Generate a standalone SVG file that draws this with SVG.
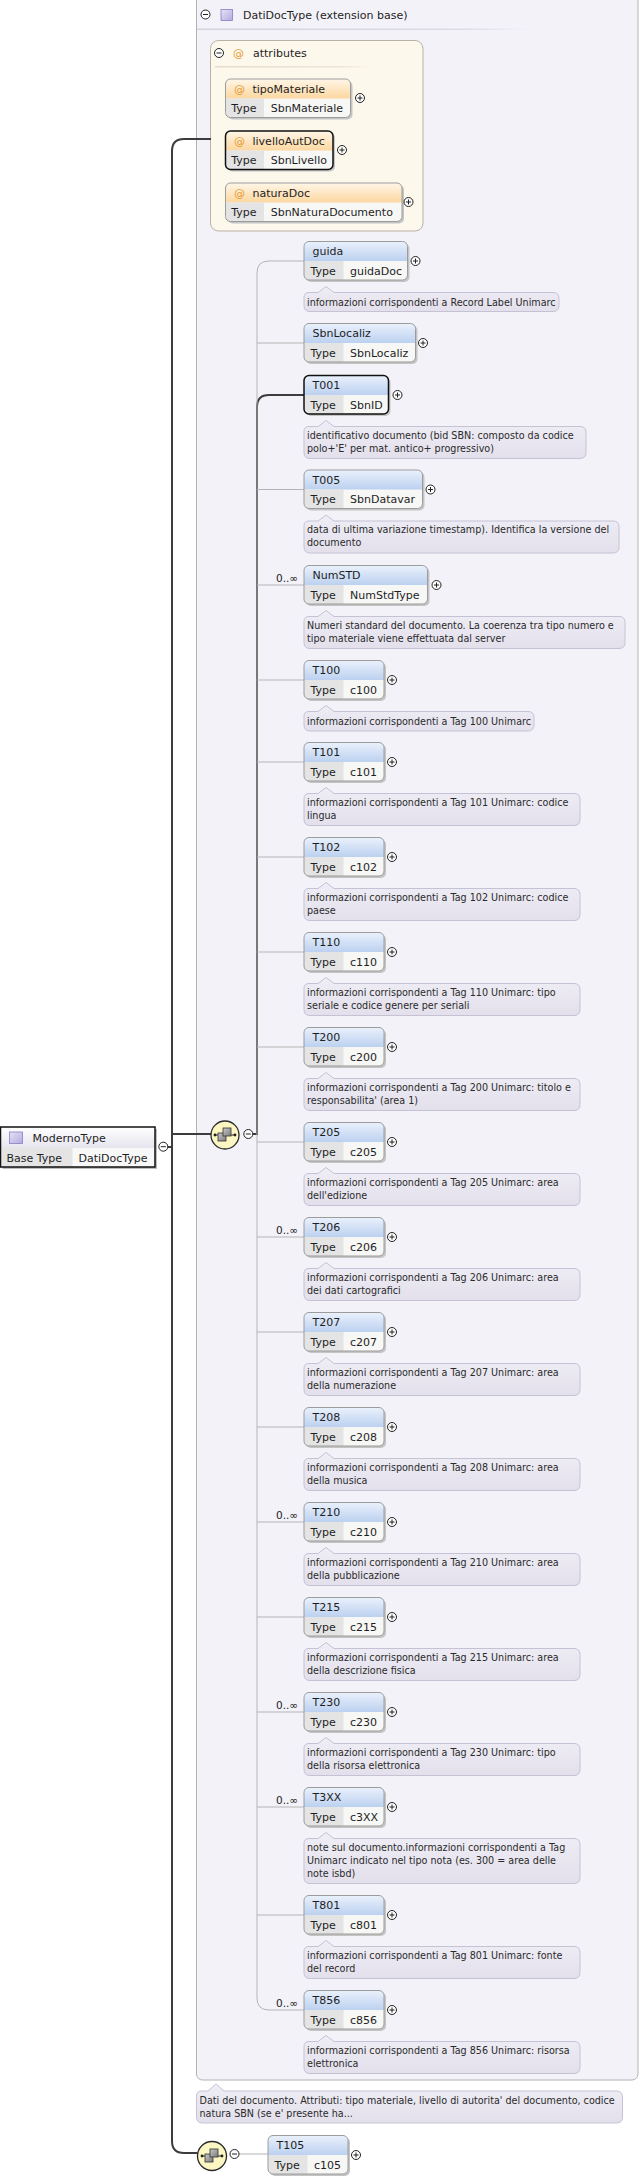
<svg xmlns="http://www.w3.org/2000/svg" width="641" height="2179" viewBox="0 0 641 2179">
<defs>
<linearGradient id="gBlue" x1="0" y1="0" x2="0" y2="1"><stop offset="0" stop-color="#eaf1fc"/><stop offset="1" stop-color="#bcd1f0"/></linearGradient>
<linearGradient id="gOrange" x1="0" y1="0" x2="0" y2="1"><stop offset="0" stop-color="#fff6e8"/><stop offset="1" stop-color="#fcd7a0"/></linearGradient>
<linearGradient id="gDoc" x1="0" y1="0" x2="0" y2="1"><stop offset="0" stop-color="#efedf5"/><stop offset="1" stop-color="#e3e0ec"/></linearGradient>
<linearGradient id="gHead" x1="0" y1="0" x2="0" y2="1"><stop offset="0" stop-color="#ffffff"/><stop offset="1" stop-color="#e6e4ee"/></linearGradient>
<linearGradient id="gSq" x1="0" y1="0" x2="1" y2="1"><stop offset="0" stop-color="#e6e2f6"/><stop offset="1" stop-color="#b4aade"/></linearGradient>
<linearGradient id="gSep" x1="0" y1="0" x2="1" y2="0"><stop offset="0" stop-color="#d4d2dc"/><stop offset="0.8" stop-color="#dcdae4"/><stop offset="1" stop-color="#dcdae4" stop-opacity="0"/></linearGradient>
<linearGradient id="gSepA" x1="0" y1="0" x2="1" y2="0"><stop offset="0" stop-color="#e6dccb"/><stop offset="0.8" stop-color="#ece4d6"/><stop offset="1" stop-color="#ece4d6" stop-opacity="0"/></linearGradient>
<linearGradient id="gBox" x1="0" y1="0" x2="1" y2="1"><stop offset="0" stop-color="#c8c8c8"/><stop offset="1" stop-color="#7c7c7c"/></linearGradient>
<g id="plus"><circle r="4.5" fill="#fff" stroke="#222" stroke-width="1"/><path d="M-2.5,0H2.5M0,-2.5V2.5" stroke="#222" stroke-width="1"/></g>
<g id="minus"><circle r="4.5" fill="#fff" stroke="#222" stroke-width="1"/><path d="M-2.5,0H2.5" stroke="#222" stroke-width="1"/></g>
<g id="seq">
<path d="M-10,0H10" stroke="#222" stroke-width="1"/>
<circle cx="-10" cy="0" r="1.4" fill="#222"/><circle cx="10" cy="0" r="1.4" fill="#222"/>
<rect x="-7" y="-2" width="8" height="8" fill="url(#gBox)" stroke="#333" stroke-width="0.8"/>
<rect x="-2" y="-7" width="8" height="8" fill="url(#gBox)" stroke="#333" stroke-width="0.8"/>
</g>
<g id="docu"/>
</defs>
<style>
.t{font-family:"DejaVu Sans",Verdana,sans-serif;font-size:11px;fill:#1e1e1e}
.d{font-family:"DejaVu Sans",Verdana,sans-serif;font-size:9.6px;fill:#2a2a2a}
.m{font-family:"DejaVu Sans",Verdana,sans-serif;font-size:10.5px;fill:#222}
.at{font-family:"DejaVu Sans",Verdana,sans-serif;font-size:11px;fill:#e69a30}
.box{fill:none;stroke:#9c9c9c;stroke-width:1}
.bold{fill:none;stroke:#111;stroke-width:1.5}
.hdr{fill:url(#gBlue)}
.ahdr{fill:url(#gOrange)}
.tc{fill:#e4e4e4}
.vc{fill:#f7f7f5}
.sh{fill:#c4c4c4}
.doc{fill:url(#gDoc);stroke:#c6c2d6;stroke-width:1}
.tree{fill:none;stroke:#b4b4b4;stroke-width:1}
.sel{fill:none;stroke:#3c3c3c;stroke-width:2}
.cw{stroke:#ffffff;stroke-width:1}
</style>
<rect width="641" height="2179" fill="#ffffff"/>

<!-- extension container -->
<g id="DatiDocType">
<rect x="196.5" y="-10" width="441.5" height="2090" rx="6" fill="#f4f2f9" stroke="#b2b2b2"/>
<use href="#minus" x="205.5" y="14.5"/>
<rect x="221" y="9.5" width="11.5" height="11" fill="url(#gSq)" stroke="#8a7cc4" stroke-width="0.8"/>
<text class="t" x="243" y="18.5">DatiDocType (extension base)</text>
<rect x="197" y="28.5" width="333" height="1.5" fill="url(#gSep)"/>
</g>

<!-- attributes -->
<g id="attributes">
<rect x="210.5" y="40.5" width="212.5" height="190.5" rx="8" fill="#fdf8ec" stroke="#b9b1a4"/>
<use href="#minus" x="219" y="53"/>
<text class="at" x="233" y="57">@</text>
<text class="t" x="253" y="57">attributes</text>
<rect x="215" y="66" width="157" height="1.5" fill="url(#gSepA)"/>
</g>

<g id="attr-tipoMateriale" transform="translate(225.5,79)">
<rect class="sh" x="2" y="2" width="125" height="38.5" rx="5"/>
<rect class="vc" width="125" height="38.5" rx="5"/>
<path class="ahdr" d="M0,19.5V5Q0,0 5,0H120Q125,0 125,5V19.5Z"/>
<path class="tc" d="M0,19.5H38.5V38.5H5Q0,38.5 0,33.5Z"/>
<rect class="box" width="125" height="38.5" rx="5"/>
<text class="at" x="8.5" y="13.5">@</text>
<text class="t" x="27" y="13.5">tipoMateriale</text>
<text class="t" x="5.8" y="32.5">Type</text>
<text class="t" x="45.2" y="32.5">SbnMateriale</text>
<use href="#plus" x="134.5" y="19"/>
</g>

<g id="attr-livelloAutDoc" transform="translate(225.5,131)">
<rect class="sh" x="2" y="2" width="107.5" height="38.5" rx="5"/>
<rect class="vc" width="107.5" height="38.5" rx="5"/>
<path class="ahdr" d="M0,19.5V5Q0,0 5,0H102.5Q107.5,0 107.5,5V19.5Z"/>
<path class="tc" d="M0,19.5H38.5V38.5H5Q0,38.5 0,33.5Z"/>
<rect class="bold" width="107.5" height="38.5" rx="5"/>
<text class="at" x="8.5" y="13.5">@</text>
<text class="t" x="27" y="13.5">livelloAutDoc</text>
<text class="t" x="5.8" y="32.5">Type</text>
<text class="t" x="45.2" y="32.5">SbnLivello</text>
<use href="#plus" x="116.5" y="19"/>
</g>

<g id="attr-naturaDoc" transform="translate(225.5,183)">
<rect class="sh" x="2" y="2" width="176.5" height="38.5" rx="5"/>
<rect class="vc" width="176.5" height="38.5" rx="5"/>
<path class="ahdr" d="M0,19.5V5Q0,0 5,0H171.5Q176.5,0 176.5,5V19.5Z"/>
<path class="tc" d="M0,19.5H38.5V38.5H5Q0,38.5 0,33.5Z"/>
<rect class="box" width="176.5" height="38.5" rx="5"/>
<text class="at" x="8.5" y="13.5">@</text>
<text class="t" x="27" y="13.5">naturaDoc</text>
<text class="t" x="5.8" y="32.5">Type</text>
<text class="t" x="45.2" y="32.5">SbnNaturaDocumento</text>
<use href="#plus" x="183" y="19"/>
</g>

<!-- connectors -->
<g id="connectors">
<path class="sel" d="M211,139H184Q172,139 172,151V2141Q172,2153 184,2153H197.5"/>
<path class="sel" d="M167.5,1147H172M172,1134H211"/>
<path class="sel" d="M253,1134H257V407Q257,395 269,395H304"/>
<path class="tree" d="M304,261H269Q257,261 257,273V1998Q257,2010 269,2010H304"/>
<path class="tree" d="M257,343H304M257,489.5H304M257,585H304M257,680H304M257,762H304M257,857H304M257,952H304M257,1047H304M257,1142H304M257,1237H304M257,1332H304M257,1427H304M257,1522H304M257,1617H304M257,1712H304M257,1807H304M257,1915H304"/>
<path class="tree" d="M239,2154H268"/>
</g>

<!-- root -->
<g id="ModernoType">
<rect x="2.5" y="1129" width="154.5" height="40" fill="#bdbdbd"/>
<rect x="0.5" y="1127" width="154.5" height="40" fill="#f8f8f8"/>
<rect x="0.5" y="1127" width="154.5" height="21" fill="url(#gHead)"/>
<rect x="0.5" y="1148" width="72" height="19" fill="#e4e4e4"/>
<rect x="0.5" y="1127" width="154.5" height="40" fill="none" stroke="#111" stroke-width="1.5"/>
<rect x="9.5" y="1132" width="13" height="11.5" fill="url(#gSq)" stroke="#8a7cc4" stroke-width="0.8"/>
<text class="t" x="32.5" y="1141.5">ModernoType</text>
<text class="t" x="6.5" y="1161.5">Base Type</text>
<text class="t" x="78.5" y="1161.5">DatiDocType</text>
<use href="#minus" x="163.3" y="1146.7"/>
</g>

<g id="sequence-main">
<circle cx="225" cy="1135" r="14" fill="#fbf6c2" stroke="#2a2a2a" stroke-width="1.3"/>
<use href="#seq" x="225" y="1135"/>
<use href="#minus" x="248.3" y="1134"/>
</g>

<g id="sequence-2">
<circle cx="212" cy="2156" r="14.5" fill="#fbf6c2" stroke="#2a2a2a" stroke-width="1.3"/>
<use href="#seq" x="212" y="2156"/>
<use href="#minus" x="234.5" y="2154"/>
</g>

<!-- elements -->
<g id="el-guida" transform="translate(304,241.5)">
<rect class="sh" x="2" y="2" width="103.5" height="38.5" rx="5"/><rect class="vc" width="103.5" height="38.5" rx="5"/>
<path class="hdr" d="M0,19.5V5Q0,0 5,0H98.5Q103.5,0 103.5,5V19.5Z"/><path class="tc" d="M0,19.5H39.5V38.5H5Q0,38.5 0,33.5Z"/>
<rect class="box" width="103.5" height="38.5" rx="5"/>
<text class="t" x="8.5" y="13.5">guida</text><text class="t" x="6.5" y="33">Type</text><text class="t" x="46" y="33">guidaDoc</text>
<use href="#plus" x="111.5" y="19.5"/>
<path class="doc" transform="translate(0,51)" d="M5,0H14L22,-6L30,0H249Q255,0 255,6V13Q255,19 249,19H6Q0,19 0,13V5Q0,0 5,0Z"/>
<text class="d" x="3" y="64">informazioni corrispondenti a Record Label Unimarc</text>
</g>

<g id="el-SbnLocaliz" transform="translate(304,323.5)">
<rect class="sh" x="2" y="2" width="111.5" height="38.5" rx="5"/><rect class="vc" width="111.5" height="38.5" rx="5"/>
<path class="hdr" d="M0,19.5V5Q0,0 5,0H106.5Q111.5,0 111.5,5V19.5Z"/><path class="tc" d="M0,19.5H39.5V38.5H5Q0,38.5 0,33.5Z"/>
<rect class="box" width="111.5" height="38.5" rx="5"/>
<text class="t" x="8.5" y="13.5">SbnLocaliz</text><text class="t" x="6.5" y="33">Type</text><text class="t" x="46" y="33">SbnLocaliz</text>
<use href="#plus" x="119" y="19.5"/>
</g>

<g id="el-T001" transform="translate(304,375.5)">
<rect class="sh" x="2" y="2" width="84.5" height="38.5" rx="5"/><rect class="vc" width="84.5" height="38.5" rx="5"/>
<path class="hdr" d="M0,19.5V5Q0,0 5,0H79.5Q84.5,0 84.5,5V19.5Z"/><path class="tc" d="M0,19.5H39.5V38.5H5Q0,38.5 0,33.5Z"/>
<rect class="bold" width="84.5" height="38.5" rx="5"/>
<text class="t" x="8.5" y="13.5">T001</text><text class="t" x="6.5" y="33">Type</text><text class="t" x="46" y="33">SbnID</text>
<use href="#plus" x="93.5" y="19.5"/>
<path class="doc" transform="translate(0,51)" d="M5,0H14L22,-6L30,0H276Q282,0 282,6V26Q282,32 276,32H6Q0,32 0,26V5Q0,0 5,0Z"/>
<text class="d" x="3" y="63">identificativo documento (bid SBN: composto da codice</text>
<text class="d" x="3" y="76">polo+'E' per mat. antico+ progressivo)</text>
</g>

<g id="el-T005" transform="translate(304,470)">
<rect class="sh" x="2" y="2" width="118.5" height="38.5" rx="5"/><rect class="vc" width="118.5" height="38.5" rx="5"/>
<path class="hdr" d="M0,19.5V5Q0,0 5,0H113.5Q118.5,0 118.5,5V19.5Z"/><path class="tc" d="M0,19.5H39.5V38.5H5Q0,38.5 0,33.5Z"/>
<rect class="box" width="118.5" height="38.5" rx="5"/>
<text class="t" x="8.5" y="13.5">T005</text><text class="t" x="6.5" y="33">Type</text><text class="t" x="46" y="33">SbnDatavar</text>
<use href="#plus" x="126.5" y="19.5"/>
<path class="doc" transform="translate(0,51)" d="M5,0H14L22,-6L30,0H309Q315,0 315,6V26Q315,32 309,32H6Q0,32 0,26V5Q0,0 5,0Z"/>
<text class="d" x="3" y="63">data di ultima variazione timestamp). Identifica la versione del</text>
<text class="d" x="3" y="76">documento</text>
</g>

<g id="el-NumSTD" transform="translate(304,565.5)">
<text class="m" x="-28" y="16.5">0..∞</text>
<rect class="sh" x="2" y="2" width="123.5" height="38.5" rx="5"/><rect class="vc" width="123.5" height="38.5" rx="5"/>
<path class="hdr" d="M0,19.5V5Q0,0 5,0H118.5Q123.5,0 123.5,5V19.5Z"/><path class="tc" d="M0,19.5H39.5V38.5H5Q0,38.5 0,33.5Z"/>
<rect class="box" width="123.5" height="38.5" rx="5"/>
<text class="t" x="8.5" y="13.5">NumSTD</text><text class="t" x="6.5" y="33">Type</text><text class="t" x="46" y="33">NumStdType</text>
<use href="#plus" x="132.5" y="19.5"/>
<path class="doc" transform="translate(0,51)" d="M5,0H14L22,-6L30,0H315Q321,0 321,6V26Q321,32 315,32H6Q0,32 0,26V5Q0,0 5,0Z"/>
<text class="d" x="3" y="63">Numeri standard del documento. La coerenza tra tipo numero e</text>
<text class="d" x="3" y="76">tipo materiale viene effettuata dal server</text>
</g>

<g id="el-T100" transform="translate(304,660.5)">
<rect class="sh" x="2" y="2" width="80" height="38.5" rx="5"/><rect class="vc" width="80" height="38.5" rx="5"/>
<path class="hdr" d="M0,19.5V5Q0,0 5,0H75Q80,0 80,5V19.5Z"/><path class="tc" d="M0,19.5H39.5V38.5H5Q0,38.5 0,33.5Z"/>
<rect class="box" width="80" height="38.5" rx="5"/>
<text class="t" x="8.5" y="13.5">T100</text><text class="t" x="6.5" y="33">Type</text><text class="t" x="46" y="33">c100</text>
<use href="#plus" x="88" y="19.5"/>
<path class="doc" transform="translate(0,51)" d="M5,0H14L22,-6L30,0H224Q230,0 230,6V13.5Q230,19.5 224,19.5H6Q0,19.5 0,13.5V5Q0,0 5,0Z"/>
<text class="d" x="3" y="64">informazioni corrispondenti a Tag 100 Unimarc</text>
</g>

<g id="el-T101" transform="translate(304,742.5)">
<rect class="sh" x="2" y="2" width="80" height="38.5" rx="5"/><rect class="vc" width="80" height="38.5" rx="5"/>
<path class="hdr" d="M0,19.5V5Q0,0 5,0H75Q80,0 80,5V19.5Z"/><path class="tc" d="M0,19.5H39.5V38.5H5Q0,38.5 0,33.5Z"/>
<rect class="box" width="80" height="38.5" rx="5"/>
<text class="t" x="8.5" y="13.5">T101</text><text class="t" x="6.5" y="33">Type</text><text class="t" x="46" y="33">c101</text>
<use href="#plus" x="88" y="19.5"/>
<path class="doc" transform="translate(0,51)" d="M5,0H14L22,-6L30,0H270Q276,0 276,6V26Q276,32 270,32H6Q0,32 0,26V5Q0,0 5,0Z"/>
<text class="d" x="3" y="63">informazioni corrispondenti a Tag 101 Unimarc: codice</text>
<text class="d" x="3" y="76">lingua</text>
</g>

<g id="el-T102" transform="translate(304,837.5)">
<rect class="sh" x="2" y="2" width="80" height="38.5" rx="5"/><rect class="vc" width="80" height="38.5" rx="5"/>
<path class="hdr" d="M0,19.5V5Q0,0 5,0H75Q80,0 80,5V19.5Z"/><path class="tc" d="M0,19.5H39.5V38.5H5Q0,38.5 0,33.5Z"/>
<rect class="box" width="80" height="38.5" rx="5"/>
<text class="t" x="8.5" y="13.5">T102</text><text class="t" x="6.5" y="33">Type</text><text class="t" x="46" y="33">c102</text>
<use href="#plus" x="88" y="19.5"/>
<path class="doc" transform="translate(0,51)" d="M5,0H14L22,-6L30,0H270Q276,0 276,6V26Q276,32 270,32H6Q0,32 0,26V5Q0,0 5,0Z"/>
<text class="d" x="3" y="63">informazioni corrispondenti a Tag 102 Unimarc: codice</text>
<text class="d" x="3" y="76">paese</text>
</g>

<g id="el-T110" transform="translate(304,932.5)">
<rect class="sh" x="2" y="2" width="80" height="38.5" rx="5"/><rect class="vc" width="80" height="38.5" rx="5"/>
<path class="hdr" d="M0,19.5V5Q0,0 5,0H75Q80,0 80,5V19.5Z"/><path class="tc" d="M0,19.5H39.5V38.5H5Q0,38.5 0,33.5Z"/>
<rect class="box" width="80" height="38.5" rx="5"/>
<text class="t" x="8.5" y="13.5">T110</text><text class="t" x="6.5" y="33">Type</text><text class="t" x="46" y="33">c110</text>
<use href="#plus" x="88" y="19.5"/>
<path class="doc" transform="translate(0,51)" d="M5,0H14L22,-6L30,0H270Q276,0 276,6V26Q276,32 270,32H6Q0,32 0,26V5Q0,0 5,0Z"/>
<text class="d" x="3" y="63">informazioni corrispondenti a Tag 110 Unimarc: tipo</text>
<text class="d" x="3" y="76">seriale e codice genere per seriali</text>
</g>

<g id="el-T200" transform="translate(304,1027.5)">
<rect class="sh" x="2" y="2" width="80" height="38.5" rx="5"/><rect class="vc" width="80" height="38.5" rx="5"/>
<path class="hdr" d="M0,19.5V5Q0,0 5,0H75Q80,0 80,5V19.5Z"/><path class="tc" d="M0,19.5H39.5V38.5H5Q0,38.5 0,33.5Z"/>
<rect class="box" width="80" height="38.5" rx="5"/>
<text class="t" x="8.5" y="13.5">T200</text><text class="t" x="6.5" y="33">Type</text><text class="t" x="46" y="33">c200</text>
<use href="#plus" x="88" y="19.5"/>
<path class="doc" transform="translate(0,51)" d="M5,0H14L22,-6L30,0H270Q276,0 276,6V26Q276,32 270,32H6Q0,32 0,26V5Q0,0 5,0Z"/>
<text class="d" x="3" y="63">informazioni corrispondenti a Tag 200 Unimarc: titolo e</text>
<text class="d" x="3" y="76">responsabilita' (area 1)</text>
</g>

<g id="el-T205" transform="translate(304,1122.5)">
<rect class="sh" x="2" y="2" width="80" height="38.5" rx="5"/><rect class="vc" width="80" height="38.5" rx="5"/>
<path class="hdr" d="M0,19.5V5Q0,0 5,0H75Q80,0 80,5V19.5Z"/><path class="tc" d="M0,19.5H39.5V38.5H5Q0,38.5 0,33.5Z"/>
<rect class="box" width="80" height="38.5" rx="5"/>
<text class="t" x="8.5" y="13.5">T205</text><text class="t" x="6.5" y="33">Type</text><text class="t" x="46" y="33">c205</text>
<use href="#plus" x="88" y="19.5"/>
<path class="doc" transform="translate(0,51)" d="M5,0H14L22,-6L30,0H270Q276,0 276,6V26Q276,32 270,32H6Q0,32 0,26V5Q0,0 5,0Z"/>
<text class="d" x="3" y="63">informazioni corrispondenti a Tag 205 Unimarc: area</text>
<text class="d" x="3" y="76">dell'edizione</text>
</g>

<g id="el-T206" transform="translate(304,1217.5)">
<text class="m" x="-28" y="16.5">0..∞</text>
<rect class="sh" x="2" y="2" width="80" height="38.5" rx="5"/><rect class="vc" width="80" height="38.5" rx="5"/>
<path class="hdr" d="M0,19.5V5Q0,0 5,0H75Q80,0 80,5V19.5Z"/><path class="tc" d="M0,19.5H39.5V38.5H5Q0,38.5 0,33.5Z"/>
<rect class="box" width="80" height="38.5" rx="5"/>
<text class="t" x="8.5" y="13.5">T206</text><text class="t" x="6.5" y="33">Type</text><text class="t" x="46" y="33">c206</text>
<use href="#plus" x="88" y="19.5"/>
<path class="doc" transform="translate(0,51)" d="M5,0H14L22,-6L30,0H270Q276,0 276,6V26Q276,32 270,32H6Q0,32 0,26V5Q0,0 5,0Z"/>
<text class="d" x="3" y="63">informazioni corrispondenti a Tag 206 Unimarc: area</text>
<text class="d" x="3" y="76">dei dati cartografici</text>
</g>

<g id="el-T207" transform="translate(304,1312.5)">
<rect class="sh" x="2" y="2" width="80" height="38.5" rx="5"/><rect class="vc" width="80" height="38.5" rx="5"/>
<path class="hdr" d="M0,19.5V5Q0,0 5,0H75Q80,0 80,5V19.5Z"/><path class="tc" d="M0,19.5H39.5V38.5H5Q0,38.5 0,33.5Z"/>
<rect class="box" width="80" height="38.5" rx="5"/>
<text class="t" x="8.5" y="13.5">T207</text><text class="t" x="6.5" y="33">Type</text><text class="t" x="46" y="33">c207</text>
<use href="#plus" x="88" y="19.5"/>
<path class="doc" transform="translate(0,51)" d="M5,0H14L22,-6L30,0H270Q276,0 276,6V26Q276,32 270,32H6Q0,32 0,26V5Q0,0 5,0Z"/>
<text class="d" x="3" y="63">informazioni corrispondenti a Tag 207 Unimarc: area</text>
<text class="d" x="3" y="76">della numerazione</text>
</g>

<g id="el-T208" transform="translate(304,1407.5)">
<rect class="sh" x="2" y="2" width="80" height="38.5" rx="5"/><rect class="vc" width="80" height="38.5" rx="5"/>
<path class="hdr" d="M0,19.5V5Q0,0 5,0H75Q80,0 80,5V19.5Z"/><path class="tc" d="M0,19.5H39.5V38.5H5Q0,38.5 0,33.5Z"/>
<rect class="box" width="80" height="38.5" rx="5"/>
<text class="t" x="8.5" y="13.5">T208</text><text class="t" x="6.5" y="33">Type</text><text class="t" x="46" y="33">c208</text>
<use href="#plus" x="88" y="19.5"/>
<path class="doc" transform="translate(0,51)" d="M5,0H14L22,-6L30,0H270Q276,0 276,6V26Q276,32 270,32H6Q0,32 0,26V5Q0,0 5,0Z"/>
<text class="d" x="3" y="63">informazioni corrispondenti a Tag 208 Unimarc: area</text>
<text class="d" x="3" y="76">della musica</text>
</g>

<g id="el-T210" transform="translate(304,1502.5)">
<text class="m" x="-28" y="16.5">0..∞</text>
<rect class="sh" x="2" y="2" width="80" height="38.5" rx="5"/><rect class="vc" width="80" height="38.5" rx="5"/>
<path class="hdr" d="M0,19.5V5Q0,0 5,0H75Q80,0 80,5V19.5Z"/><path class="tc" d="M0,19.5H39.5V38.5H5Q0,38.5 0,33.5Z"/>
<rect class="box" width="80" height="38.5" rx="5"/>
<text class="t" x="8.5" y="13.5">T210</text><text class="t" x="6.5" y="33">Type</text><text class="t" x="46" y="33">c210</text>
<use href="#plus" x="88" y="19.5"/>
<path class="doc" transform="translate(0,51)" d="M5,0H14L22,-6L30,0H270Q276,0 276,6V26Q276,32 270,32H6Q0,32 0,26V5Q0,0 5,0Z"/>
<text class="d" x="3" y="63">informazioni corrispondenti a Tag 210 Unimarc: area</text>
<text class="d" x="3" y="76">della pubblicazione</text>
</g>

<g id="el-T215" transform="translate(304,1597.5)">
<rect class="sh" x="2" y="2" width="80" height="38.5" rx="5"/><rect class="vc" width="80" height="38.5" rx="5"/>
<path class="hdr" d="M0,19.5V5Q0,0 5,0H75Q80,0 80,5V19.5Z"/><path class="tc" d="M0,19.5H39.5V38.5H5Q0,38.5 0,33.5Z"/>
<rect class="box" width="80" height="38.5" rx="5"/>
<text class="t" x="8.5" y="13.5">T215</text><text class="t" x="6.5" y="33">Type</text><text class="t" x="46" y="33">c215</text>
<use href="#plus" x="88" y="19.5"/>
<path class="doc" transform="translate(0,51)" d="M5,0H14L22,-6L30,0H270Q276,0 276,6V26Q276,32 270,32H6Q0,32 0,26V5Q0,0 5,0Z"/>
<text class="d" x="3" y="63">informazioni corrispondenti a Tag 215 Unimarc: area</text>
<text class="d" x="3" y="76">della descrizione fisica</text>
</g>

<g id="el-T230" transform="translate(304,1692.5)">
<text class="m" x="-28" y="16.5">0..∞</text>
<rect class="sh" x="2" y="2" width="80" height="38.5" rx="5"/><rect class="vc" width="80" height="38.5" rx="5"/>
<path class="hdr" d="M0,19.5V5Q0,0 5,0H75Q80,0 80,5V19.5Z"/><path class="tc" d="M0,19.5H39.5V38.5H5Q0,38.5 0,33.5Z"/>
<rect class="box" width="80" height="38.5" rx="5"/>
<text class="t" x="8.5" y="13.5">T230</text><text class="t" x="6.5" y="33">Type</text><text class="t" x="46" y="33">c230</text>
<use href="#plus" x="88" y="19.5"/>
<path class="doc" transform="translate(0,51)" d="M5,0H14L22,-6L30,0H270Q276,0 276,6V26Q276,32 270,32H6Q0,32 0,26V5Q0,0 5,0Z"/>
<text class="d" x="3" y="63">informazioni corrispondenti a Tag 230 Unimarc: tipo</text>
<text class="d" x="3" y="76">della risorsa elettronica</text>
</g>

<g id="el-T3XX" transform="translate(304,1787.5)">
<text class="m" x="-28" y="16.5">0..∞</text>
<rect class="sh" x="2" y="2" width="80" height="38.5" rx="5"/><rect class="vc" width="80" height="38.5" rx="5"/>
<path class="hdr" d="M0,19.5V5Q0,0 5,0H75Q80,0 80,5V19.5Z"/><path class="tc" d="M0,19.5H39.5V38.5H5Q0,38.5 0,33.5Z"/>
<rect class="box" width="80" height="38.5" rx="5"/>
<text class="t" x="8.5" y="13.5">T3XX</text><text class="t" x="6.5" y="33">Type</text><text class="t" x="46" y="33">c3XX</text>
<use href="#plus" x="88" y="19.5"/>
<path class="doc" transform="translate(0,51)" d="M5,0H14L22,-6L30,0H270Q276,0 276,6V39Q276,45 270,45H6Q0,45 0,39V5Q0,0 5,0Z"/>
<text class="d" x="3" y="63">note sul documento.informazioni corrispondenti a Tag</text>
<text class="d" x="3" y="76">Unimarc indicato nel tipo nota (es. 300 = area delle</text>
<text class="d" x="3" y="89">note isbd)</text>
</g>

<g id="el-T801" transform="translate(304,1895.5)">
<rect class="sh" x="2" y="2" width="80" height="38.5" rx="5"/><rect class="vc" width="80" height="38.5" rx="5"/>
<path class="hdr" d="M0,19.5V5Q0,0 5,0H75Q80,0 80,5V19.5Z"/><path class="tc" d="M0,19.5H39.5V38.5H5Q0,38.5 0,33.5Z"/>
<rect class="box" width="80" height="38.5" rx="5"/>
<text class="t" x="8.5" y="13.5">T801</text><text class="t" x="6.5" y="33">Type</text><text class="t" x="46" y="33">c801</text>
<use href="#plus" x="88" y="19.5"/>
<path class="doc" transform="translate(0,51)" d="M5,0H14L22,-6L30,0H270Q276,0 276,6V26Q276,32 270,32H6Q0,32 0,26V5Q0,0 5,0Z"/>
<text class="d" x="3" y="63">informazioni corrispondenti a Tag 801 Unimarc: fonte</text>
<text class="d" x="3" y="76">del record</text>
</g>

<g id="el-T856" transform="translate(304,1990.5)">
<text class="m" x="-28" y="16.5">0..∞</text>
<rect class="sh" x="2" y="2" width="80" height="38.5" rx="5"/><rect class="vc" width="80" height="38.5" rx="5"/>
<path class="hdr" d="M0,19.5V5Q0,0 5,0H75Q80,0 80,5V19.5Z"/><path class="tc" d="M0,19.5H39.5V38.5H5Q0,38.5 0,33.5Z"/>
<rect class="box" width="80" height="38.5" rx="5"/>
<text class="t" x="8.5" y="13.5">T856</text><text class="t" x="6.5" y="33">Type</text><text class="t" x="46" y="33">c856</text>
<use href="#plus" x="88" y="19.5"/>
<path class="doc" transform="translate(0,51)" d="M5,0H14L22,-6L30,0H270Q276,0 276,6V26Q276,32 270,32H6Q0,32 0,26V5Q0,0 5,0Z"/>
<text class="d" x="3" y="63">informazioni corrispondenti a Tag 856 Unimarc: risorsa</text>
<text class="d" x="3" y="76">elettronica</text>
</g>

<g id="doc-DatiDocType">
<path class="doc" d="M201.5,2091H208L216,2084L224,2091H616.5Q622.5,2091 622.5,2097V2117Q622.5,2123 616.5,2123H202.5Q196.5,2123 196.5,2117V2096Q196.5,2091 201.5,2091Z"/>
<text class="d" x="199.5" y="2103.5">Dati del documento. Attributi: tipo materiale, livello di autorita' del documento, codice</text>
<text class="d" x="199.5" y="2116.5">natura SBN (se e' presente ha...</text>
</g>

<g id="el-T105" transform="translate(268,2135.5)">
<rect class="sh" x="2" y="2" width="80" height="38.5" rx="5"/><rect class="vc" width="80" height="38.5" rx="5"/>
<path class="hdr" d="M0,19.5V5Q0,0 5,0H75Q80,0 80,5V19.5Z"/><path class="tc" d="M0,19.5H39.5V38.5H5Q0,38.5 0,33.5Z"/>
<rect class="box" width="80" height="38.5" rx="5"/>
<text class="t" x="8.5" y="13.5">T105</text><text class="t" x="6.5" y="33">Type</text><text class="t" x="46" y="33">c105</text>
<use href="#plus" x="88" y="19.5"/>
</g>
</svg>
